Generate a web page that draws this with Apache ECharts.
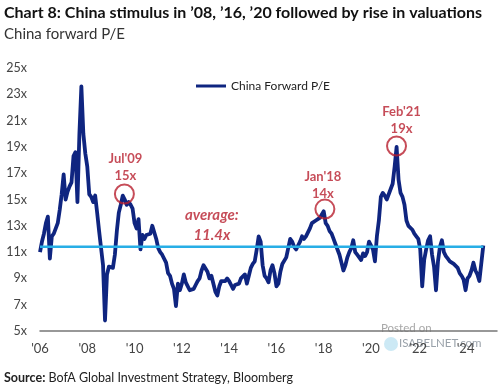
<!DOCTYPE html>
<html><head><meta charset="utf-8">
<script src="https://cdn.jsdelivr.net/npm/echarts@6/dist/echarts.min.js"></script>
<style>html,body{margin:0;padding:0;background:#fff}#c{width:500px;height:392px}</style>
</head><body><div id="c"></div>
<script>
// Monthly China forward P/E (Jan..Dec)
const startYear = 2006;
const pe2006 = [11.0, 11.8, 12.4, 13.2, 13.7, 10.5, 12.2, 12.4, 12.8, 13.2, 14.2, 15.4];
const pe2007 = [16.9, 15.0, 15.6, 16.0, 16.3, 18.3, 18.6, 14.8, 20.0, 23.6, 20.0, 18.5];
const pe2008 = [17.5, 15.4, 15.2, 14.8, 15.3, 14.0, 12.6, 11.3, 10.0, 5.8, 9.3, 9.9];
const pe2009 = [10.0, 9.8, 10.8, 12.6, 14.0, 14.6, 15.3, 15.0, 14.6, 14.8, 14.6, 14.3];
const pe2010 = [13.2, 12.8, 13.5, 11.2, 12.3, 12.0, 12.3, 12.2, 12.4, 13.0, 12.9, 12.0];
const pe2011 = [11.3, 11.0, 10.8, 10.7, 10.2, 9.4, 9.2, 8.6, 8.2, 6.9, 8.6, 8.1];
const pe2012 = [8.6, 9.3, 8.7, 8.6, 8.1, 8.0, 8.2, 8.5, 8.8, 9.0, 9.6, 10.0];
const pe2013 = [10.1, 9.5, 9.0, 9.2, 9.3, 8.0, 7.7, 8.4, 8.8, 8.9, 8.8, 9.0];
const pe2014 = [8.8, 8.5, 8.2, 8.5, 8.4, 8.6, 9.0, 9.1, 9.3, 8.6, 9.2, 9.8];
const pe2015 = [10.1, 10.3, 11.2, 12.2, 11.8, 10.0, 9.2, 9.0, 8.7, 9.6, 10.0, 9.4];
const pe2016 = [8.4, 8.6, 9.5, 10.1, 10.0, 10.6, 11.3, 12.0, 11.8, 11.4, 11.2, 11.5];
const pe2017 = [11.8, 12.2, 12.0, 12.2, 12.3, 12.8, 13.2, 13.3, 13.4, 13.5, 13.6, 13.5];
const pe2018 = [14.1, 13.2, 13.0, 12.6, 12.4, 12.0, 11.6, 11.2, 10.8, 10.2, 9.6, 10.0];
const pe2019 = [10.6, 11.0, 11.3, 11.9, 11.0, 10.8, 10.6, 10.4, 10.9, 10.7, 11.0, 11.8];
const pe2020 = [11.8, 11.2, 10.3, 12.2, 13.4, 15.2, 15.5, 15.3, 15.0, 15.4, 15.5, 16.2];
const pe2021 = [17.5, 19.0, 16.5, 15.5, 15.2, 14.6, 13.4, 13.0, 12.9, 12.7, 12.4, 12.2];
const pe2022 = [12.0, 11.2, 8.4, 10.4, 11.2, 11.9, 12.2, 10.8, 9.9, 8.1, 10.3, 11.4];
const pe2023 = [11.9, 11.0, 10.7, 10.5, 10.3, 10.4, 10.1, 10.0, 9.8, 9.4, 9.2, 8.9];
const pe2024 = [8.1, 9.0, 9.2, 9.6, 10.2, 9.6, 9.3, 8.8, 8.7, 11.5];

const averagePE = 11.4;
const yTicks = [5, 7, 9, 11, 13, 15, 17, 19, 21, 23, 25];
const xTickYears = [2006, 2008, 2010, 2012, 2014, 2016, 2018, 2020, 2022, 2024];

// annotated peaks
const annLabels = ["Jul'09", "Jan'18", "Feb'21"];
const annValues = ["15x", "14x", "19x"];
const annX = [2009.57, 2018.05, 2021.08];
const annY = [15.42, 14.27, 19.07];

const peByYear = [pe2006, pe2007, pe2008, pe2009, pe2010, pe2011, pe2012, pe2013, pe2014,
  pe2015, pe2016, pe2017, pe2018, pe2019, pe2020, pe2021, pe2022, pe2023, pe2024];
const peData = [];
peByYear.forEach((arr, i) => arr.forEach((v, m) => peData.push([startYear + i + m / 12, v])));
const lastX = peData[peData.length - 1][0];

const RED = '#b81f2e';
const NAVY = '#0f2580';
const FONT = 'Lato, "Liberation Sans", sans-serif';
const offsets = [[1, 3], [-2, 6], [5, 4]];

const chart = echarts.init(document.getElementById('c'));
chart.setOption({
  animation: false,
  grid: { left: 40, right: 0, top: 68, bottom: 61 },
  xAxis: {
    type: 'value', min: 2006, max: 2025.33, interval: 2,
    axisLine: { show: true, lineStyle: { color: '#777', width: 1.5 } },
    axisTick: { show: false }, splitLine: { show: false },
    axisLabel: {
      margin: 11, color: '#444', fontSize: 13, fontFamily: FONT,
      formatter: v => xTickYears.indexOf(v) >= 0 ? "'" + String(v).slice(2) : ''
    }
  },
  yAxis: {
    type: 'value', min: yTicks[0], max: yTicks[yTicks.length - 1], interval: 2,
    axisLine: { show: false }, axisTick: { show: false }, splitLine: { show: false },
    axisLabel: { margin: 13, color: '#444', fontSize: 12.5, fontFamily: FONT, formatter: v => v + 'x' }
  },
  legend: {
    data: ['China Forward P/E'], left: 191, top: 75, icon: 'rect', itemWidth: 30, itemHeight: 3,
    textStyle: { fontSize: 12, color: '#222', fontFamily: FONT }
  },
  graphic: [
    { type: 'text', left: 4, top: 5, style: { text: 'Chart 8: China stimulus in \u201908, \u201916, \u201920 followed by rise in valuations',
      font: 'bold 16px Lato, "Liberation Sans", sans-serif', fill: '#111' } },
    { type: 'text', left: 4, top: 27, style: { text: 'China forward P/E', font: '15px ' + FONT, fill: '#333' } },
    { type: 'text', left: 4, top: 371, style: { text: '{b|Source:} BofA Global Investment Strategy, Bloomberg',
      font: '12.5px ' + FONT, fill: '#222', rich: { b: { fontWeight: 'bold', fontSize: 12.5, fontFamily: FONT, fill: '#222' } } } },
    { type: 'text', left: 381, top: 322, style: { text: 'Posted on', font: '11.5px ' + FONT, fill: '#a8a8a8' } },
    { type: 'circle', shape: { cx: 391, cy: 344, r: 7 }, style: { fill: '#bfe3f2', opacity: 0.8 } },
    { type: 'text', left: 399, top: 337, style: { text: 'ISABELNET.com', font: '11.5px ' + FONT, fill: '#9aa2aa' } }
  ],
  series: [
    {
      name: 'China Forward P/E', type: 'line', data: peData, showSymbol: false, symbol: 'none',
      lineStyle: { color: NAVY, width: 3.8, join: 'round' }, itemStyle: { color: NAVY }, z: 2
    },
    {
      name: 'average', type: 'line', data: [[startYear, averagePE], [lastX, averagePE]], showSymbol: false, symbol: 'none',
      lineStyle: { color: '#27aee6', width: 2.5 }, z: 3, silent: true,
      label: { show: false }
    },
    {
      name: 'avgText', type: 'scatter', symbolSize: 0, silent: true, z: 4,
      data: [[2013.27, 13.06]],
      label: { show: true, position: 'inside', formatter: 'average:\n' + averagePE + 'x', color: RED,
        fontSize: 15, fontStyle: 'italic', fontWeight: 'bold', lineHeight: 20, fontFamily: 'Lato, sans-serif' }
    },
    {
      name: 'peaks', type: 'scatter', symbol: 'circle', symbolSize: 19, silent: true, z: 5,
      itemStyle: { color: 'rgba(0,0,0,0)', borderColor: RED, borderWidth: 2 },
      data: annX.map((x, i) => ({ value: [x, annY[i]],
        label: { offset: offsets[i] } })),
      label: {
        show: true, position: 'top', distance: 2, color: RED, fontSize: 13, fontWeight: 'bold',
        lineHeight: 17, fontFamily: FONT,
        formatter: p => annLabels[p.dataIndex] + '\n' + annValues[p.dataIndex]
      }
    }
  ]
});
</script></body></html>
